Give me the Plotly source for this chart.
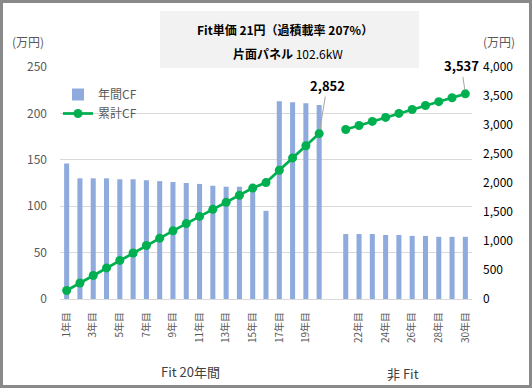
import plotly.graph_objects as go

# ---- data ----
categories = [f"{i}年目" for i in range(1, 21)] + [" "] + [f"{i}年目" for i in range(21, 31)]
annual_cf = [146, 130, 130, 130, 129, 129, 128, 127, 126, 125,
             124, 122, 121, 121, 124, 95, 213, 212, 211, 209,
             None,
             70, 70, 70, 69, 69, 68, 68, 67, 67, 67]
cumulative_cf = [146, 276, 406, 536, 665, 794, 922, 1049, 1175, 1300,
                 1424, 1546, 1667, 1788, 1912, 2007, 2220, 2432, 2643, 2852,
                 None,
                 2922, 2992, 3062, 3131, 3200, 3268, 3336, 3403, 3470, 3537]
tick_cats = [categories[i] for i in list(range(0, 20, 2)) + list(range(22, 31, 2))]
group_labels = ["Fit 20年間", "非 Fit"]
title_line1 = "Fit単価 21円（過積載率 207%）"
title_line2 = "片面パネル 102.6kW"

W, H = 532, 388
L, R, T, B = 60, 60, 67, 89
PW, PH = W - L - R, H - T - B

def px(xp):
    return (xp - L) / PW

def py(yp):
    return (H - B - yp) / PH

FONT = "Noto Sans CJK JP, Noto Sans, sans-serif"

fig = go.Figure()
fig.add_trace(go.Bar(
    x=categories, y=annual_cf, name="年間CF",
    marker=dict(color="#8FAADC", line=dict(width=0)),
    yaxis="y",
))
fig.add_trace(go.Scatter(
    x=categories, y=cumulative_cf, name="累計CF",
    mode="lines+markers", connectgaps=False,
    line=dict(color="#00B050", width=2.75),
    marker=dict(color="#00B050", size=9),
    yaxis="y2",
))

shapes = [
    # title box
    dict(type="rect", xref="paper", yref="paper",
         x0=px(160), x1=px(419), y0=py(68), y1=py(11),
         fillcolor="#F2F2F2", line=dict(width=0), layer="above"),
    # outer border
    dict(type="rect", xref="paper", yref="paper",
         x0=px(1.5), x1=px(530.5), y0=py(386.5), y1=py(1.5),
         line=dict(color="#898989", width=3), fillcolor="rgba(0,0,0,0)"),
]

def paper_text(xp, yp, text, size, color):
    return dict(xref="paper", yref="paper", x=px(xp), y=py(yp), showarrow=False,
                xanchor="center", yanchor="middle", text=text,
                font=dict(size=size, color=color, family=FONT))

annotations = [
    paper_text(284.5, 30, f"<b>{title_line1}</b>", 12, "#000000"),
    paper_text(288, 53, "<b>片面パネル</b> 102.6kW", 12, "#000000"),
    paper_text(28, 41, "(万円)", 12, "#595959"),
    paper_text(499, 41, "(万円)", 12, "#595959"),
    paper_text(190, 371, group_labels[0], 13, "#404040"),
    paper_text(403, 373, group_labels[1], 13, "#404040"),
    dict(x=categories[19], y=cumulative_cf[19], xref="x", yref="y2",
         text="<b>2,852</b>", showarrow=True, arrowhead=0, arrowwidth=1,
         arrowcolor="#A6A6A6", ax=8, ay=-48, standoff=4,
         font=dict(size=13, color="#000000", family=FONT)),
    dict(x=categories[30], y=cumulative_cf[30], xref="x", yref="y2",
         text="<b>3,537</b>", showarrow=True, arrowhead=0, arrowwidth=1,
         arrowcolor="#A6A6A6", ax=-4, ay=-28, standoff=4,
         font=dict(size=13, color="#000000", family=FONT)),
]

fig.update_layout(
    width=W, height=H,
    margin=dict(l=L, r=R, t=T, b=B),
    paper_bgcolor="white", plot_bgcolor="white",
    font=dict(family=FONT, color="#595959"),
    bargap=0.62,
    showlegend=True,
    legend=dict(x=px(58), y=py(80), xanchor="left", yanchor="top",
                bgcolor="rgba(0,0,0,0)", font=dict(size=12, color="#595959", family=FONT),
                tracegroupgap=0, itemwidth=30),
    xaxis=dict(
        type="category", categoryorder="array", categoryarray=categories,
        tickmode="array", tickvals=tick_cats, ticktext=tick_cats,
        tickangle=-90, tickfont=dict(size=10, color="#595959", family=FONT),
        showgrid=False, showline=True, linecolor="#D9D9D9", linewidth=1,
        ticks="", ticklabelstandoff=8, range=[-0.5, 30.5],
    ),
    yaxis=dict(
        range=[0, 250], dtick=50, showgrid=True, gridcolor="#D9D9D9", gridwidth=1,
        zeroline=False, ticks="", tickfont=dict(size=12, color="#595959", family=FONT),
        ticklabelstandoff=12,
    ),
    yaxis2=dict(
        range=[0, 4000], dtick=500, overlaying="y", side="right", showgrid=False,
        zeroline=False, ticks="", tickformat=",",
        tickfont=dict(size=12, color="#000000", family=FONT),
        ticklabelstandoff=10,
    ),
    shapes=shapes,
    annotations=annotations,
)

fig.write_html("out.html", config={"displayModeBar": False},
               post_script="document.body.style.margin='0';document.body.style.padding='0';")
